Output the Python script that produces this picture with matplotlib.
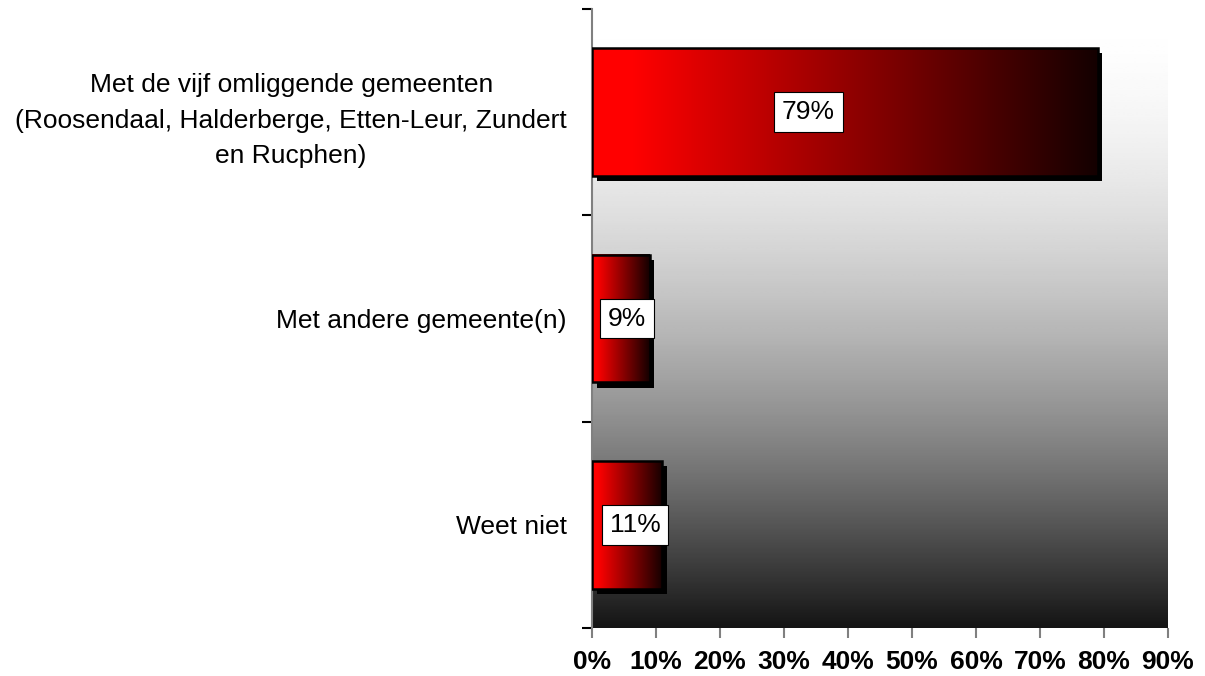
import numpy as np
import matplotlib
matplotlib.use('Agg')
import matplotlib.pyplot as plt
from matplotlib.colors import LinearSegmentedColormap
from matplotlib.patches import Rectangle

# data
categories = ['Met de vijf omliggende gemeenten\n(Roosendaal, Halderberge, Etten-Leur, Zundert\nen Rucphen)',
              'Met andere gemeente(n)',
              'Weet niet']
values = [79, 9, 11]
value_labels = ['79%', '9%', '11%']
xticks = [0, 10, 20, 30, 40, 50, 60, 70, 80, 90]
xtick_labels = ['0%', '10%', '20%', '30%', '40%', '50%', '60%', '70%', '80%', '90%']

# label x positions as placed in the original chart
label_x = [33.8, 5.5, 6.7]

plt.rcParams['font.family'] = ['Liberation Sans', 'DejaVu Sans']

fig = plt.figure(figsize=(12.05, 6.76), dpi=100)
ax = fig.add_axes([592/1205, 1 - 628/676, (1168-592)/1205, (628-9)/676])

n = len(categories)
ax.set_xlim(0, 90)
ax.set_ylim(n, 0)

# background: white at top, nearly black at bottom
t = np.linspace(0, 1, 256).reshape(-1, 1)
bg = 1 - 0.92 * t ** 1.8
ax.imshow(bg, cmap='gray', vmin=0, vmax=1, extent=(0, 90, n, 0),
          aspect='auto', zorder=0, interpolation='bilinear')

# bars: red -> black gradient, black shadow, black edge
bar_cmap = LinearSegmentedColormap.from_list('redblack',
                                             [(0, '#ff0000'), (0.08, '#ff0000'), (1, '#140000')])
grad = np.linspace(0, 1, 256).reshape(1, -1)
h = 0.62
dx, dy = 0.75, 0.025
for i, v in enumerate(values):
    y = i + 0.5
    ax.add_patch(Rectangle((dx, y - h/2 + dy), v, h, facecolor='black',
                           edgecolor='none', zorder=2))
    ax.imshow(grad, cmap=bar_cmap, extent=(0, v, y + h/2, y - h/2),
              aspect='auto', zorder=3, interpolation='bilinear')
    ax.add_patch(Rectangle((0, y - h/2), v, h, facecolor='none',
                           edgecolor='black', lw=1.8, zorder=4))
    ax.text(label_x[i], y, value_labels[i], ha='center', va='center',
            fontsize=19, zorder=5,
            bbox=dict(boxstyle='square,pad=0.3', facecolor='white',
                      edgecolor='black', lw=0.8))

ax.set_xlim(0, 90)
ax.set_ylim(n, 0)

ax.set_yticks([i + 0.5 for i in range(n)])
ax.set_yticklabels(categories, fontsize=19, multialignment='center', linespacing=1.62)
ax.set_yticks(range(n + 1), minor=True)
ax.tick_params(axis='y', which='major', length=0, pad=18)
ax.tick_params(axis='y', which='minor', length=7, width=1.5, color='black')

ax.set_xticks(xticks)
ax.set_xticklabels(xtick_labels, fontsize=19, fontweight='bold')
ax.tick_params(axis='x', length=7, width=1.5, color='#808080', pad=9)

for s in ['top', 'right', 'bottom']:
    ax.spines[s].set_visible(False)
ax.spines['left'].set_color('#808080')
ax.spines['left'].set_linewidth(1.5)

fig.savefig('out.png', dpi=100)
